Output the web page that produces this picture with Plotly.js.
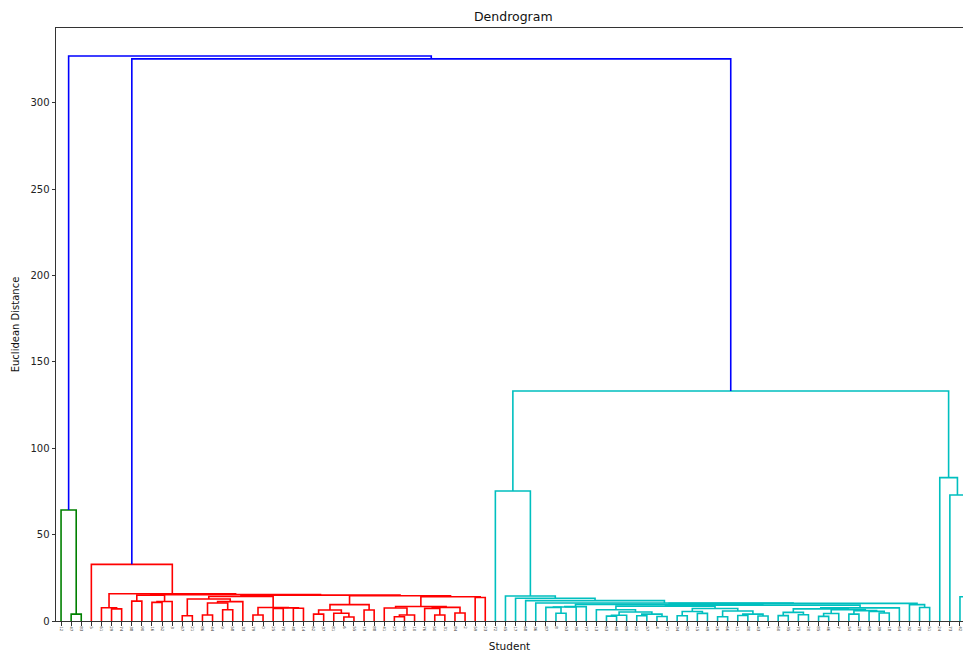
<!DOCTYPE html>
<html>
<head>
<meta charset="utf-8">
<script src="https://cdn.plot.ly/plotly-3.0.1.min.js"></script>
<style>html,body{margin:0;padding:0;background:#fff;overflow:hidden}</style>
</head>
<body>
<div id="chart" style="width:963px;height:652px"></div>
<script>
// Leaf labels (student ids, in dendrogram leaf order; tiny in the reference, estimated)
const leafLabels = [12,47,83,5,61,29,74,38,90,16,52,3,67,21,86,44,9,58,33,79,0,25,70,48,14,62,37,81,6,55,19,88,41,27,65,10,76,50,31,84,2,59,23,72,45,17,68,36,87,8,53,30,77,13,63,40,89,22,57,4,71,34,82,15,49,26,66,11,80,43,1,60,35,75,20,85,46,7,54,28,69,39,18,64,32,78,51,24,73,42,56].map(String);

// Merges: [newNode, leftChild, rightChild, height]; children are leaf positions or earlier node names
const greenMerges = [
  ["g1", 1, 2, 4.0],
  ["G", 0, "g1", 64.3]
];
const redMerges = [
  ["r56", 5, 6, 7.0], ["RA1", 4, "r56", 7.7],
  ["r78", 7, 8, 11.5], ["r910", 9, 10, 10.8], ["r911", "r910", 11, 11.3], ["RC", "r78", "r911", 15.0],
  ["r1213", 12, 13, 3.0], ["r1415", 14, 15, 3.5], ["r1617", 16, 17, 6.5],
  ["r1417", "r1415", "r1617", 10.4], ["E1", "r1417", 18, 11.2], ["E2", "r1213", "E1", 12.7],
  ["r1920", 19, 20, 3.5], ["r2122", 21, 22, 7.2], ["r2324", 23, 24, 7.4],
  ["r2124", "r2122", "r2324", 7.6], ["E3", "r1920", "r2124", 7.8], ["RE", "E2", "E3", 14.2],
  ["r2526", 25, 26, 4.0], ["r2829", 28, 29, 2.3], ["r2729", 27, "r2829", 4.5],
  ["F1", "r2526", "r2729", 6.4], ["F2", 30, 31, 6.4], ["FL", "F1", "F2", 9.5],
  ["r3334", 33, 34, 2.5], ["r3335", "r3334", 35, 3.5], ["F3", 32, "r3335", 7.5],
  ["r3738", 37, 38, 3.5], ["F4", 36, "r3738", 7.3], ["r3940", 39, 40, 4.6],
  ["F4b", "F4", "r3940", 7.9], ["Fx", "F3", "F4b", 8.4], ["F5", 41, 42, 13.6],
  ["FR", "Fx", "F5", 14.0], ["RF", "FL", "FR", 14.6], ["RD", "RE", "RF", 15.0],
  ["RA2", "RC", "RD", 15.3], ["RB", "RA1", "RA2", 15.8], ["R", 3, "RB", 32.8]
];
const cyanMerges = [
  ["a4950", 49, 50, 4.5], ["a1", 48, "a4950", 7.9], ["a2", "a1", 51, 8.1], ["A1", "a2", 52, 8.3],
  ["b5455", 54, 55, 2.8], ["b5456", "b5455", 56, 3.3], ["b5758", 57, 58, 3.0], ["b5960", 59, 60, 2.6],
  ["b5760", "b5758", "b5960", 4.0], ["b5460", "b5456", "b5760", 5.2], ["A2", 53, "b5460", 6.5],
  ["c6162", 61, 62, 3.0], ["c6364", 63, 64, 4.4], ["c6164", "c6162", "c6364", 5.5],
  ["c6566", 65, 66, 2.5], ["c6768", 67, 68, 3.2], ["c6970", 69, 70, 2.9],
  ["c6770", "c6768", "c6970", 4.0], ["c6570", "c6566", "c6770", 5.8], ["A3", "c6164", "c6570", 7.2],
  ["d7172", 71, 72, 3.1], ["d7374", 73, 74, 3.6], ["d7174", "d7172", "d7374", 5.0],
  ["d7576", 75, 76, 2.7], ["d7577", "d7576", 77, 4.3], ["d7879", 78, 79, 4.0],
  ["d8182", 81, 82, 4.6], ["d8082", 80, "d8182", 5.6], ["d7882", "d7879", "d8082", 6.0],
  ["d7582", "d7577", "d7882", 6.6], ["d7182", "d7174", "d7582", 7.0], ["A4", "d7182", 83, 7.6],
  ["B1", "A2", "A3", 8.6], ["B2", "B1", "A4", 9.2], ["K1", "A1", "B2", 9.6],
  ["k8586", 85, 86, 7.8], ["K2", 84, "k8586", 9.5], ["K", "K1", "K2", 10.2],
  ["CP", 47, "K", 10.4], ["CO", 46, "CP", 11.8], ["CN", 45, "CO", 13.2], ["CM", 44, "CN", 14.5],
  ["CL", 43, "CM", 75.3],
  ["c8990", 89, 90, 14.0], ["CB", 88, "c8990", 73.0], ["CR", 87, "CB", 83.0],
  ["C", "CL", "CR", 133.2]
];
const blueMerges = [
  ["Q", "R", "C", 325.5],
  ["T", "G", "Q", 327.2]
];
const yTicks = [0, 50, 100, 150, 200, 250, 300];

// Dendrogram layout (scipy convention: leaf i at 5 + 10*i)
const pos = {}, hgt = {};
const leafX = leafLabels.map((_, i) => 5 + 10 * i);
leafLabels.forEach((_, i) => { pos[i] = leafX[i]; hgt[i] = 0; });
function links(merges) {
  const xs = [], ys = [];
  for (const [id, a, b, h] of merges) {
    const xa = pos[a], xb = pos[b];
    xs.push(xa, xa, xb, xb, null);
    ys.push(hgt[a], h, h, hgt[b], null);
    pos[id] = (xa + xb) / 2; hgt[id] = h;
  }
  return {xs, ys};
}
const groups = [
  [greenMerges, '#008000'],
  [redMerges, '#ff0000'],
  [cyanMerges, '#00bfbf'],
  [blueMerges, '#0000ff']
];
const traces = groups.map(([m, c]) => {
  const l = links(m);
  return {x: l.xs, y: l.ys, type: 'scatter', mode: 'lines',
          line: {color: c, width: 1.6}, hoverinfo: 'skip', showlegend: false};
});

const font = {family: 'DejaVu Sans, sans-serif', color: '#222'};
const layout = {
  width: 963, height: 652,
  margin: {l: 56, r: 0, t: 28, b: 31},
  paper_bgcolor: '#fff', plot_bgcolor: '#fff',
  font: font,
  title: {text: 'Dendrogram', font: {size: 12.5, color: '#111', family: font.family},
          xref: 'container', x: 0.533, xanchor: 'center', yref: 'container', y: 0.975, yanchor: 'middle'},
  xaxis: {range: [0, 898], showgrid: false, zeroline: false,
          showline: true, mirror: true, linecolor: '#333', linewidth: 1,
          ticks: 'outside', ticklen: 3.5, tickcolor: '#333',
          tickmode: 'array', tickvals: leafX, ticktext: leafLabels,
          tickangle: 90, tickfont: {size: 4, color: '#444'},
          title: {text: 'Student', font: {size: 10.5, color: '#111'}, standoff: 11}},
  yaxis: {range: [0, 343.4], showgrid: false, zeroline: false,
          showline: true, linecolor: '#333', linewidth: 1,
          ticks: 'outside', ticklen: 3.5, tickcolor: '#333',
          tickmode: 'array', tickvals: yTicks, ticktext: yTicks.map(String),
          tickfont: {size: 10, color: '#222'},
          title: {text: 'Euclidean Distance', font: {size: 10, color: '#111'}, standoff: 8}}
};
Plotly.newPlot('chart', traces, layout, {displayModeBar: false, staticPlot: true});
</script>
</body>
</html>
